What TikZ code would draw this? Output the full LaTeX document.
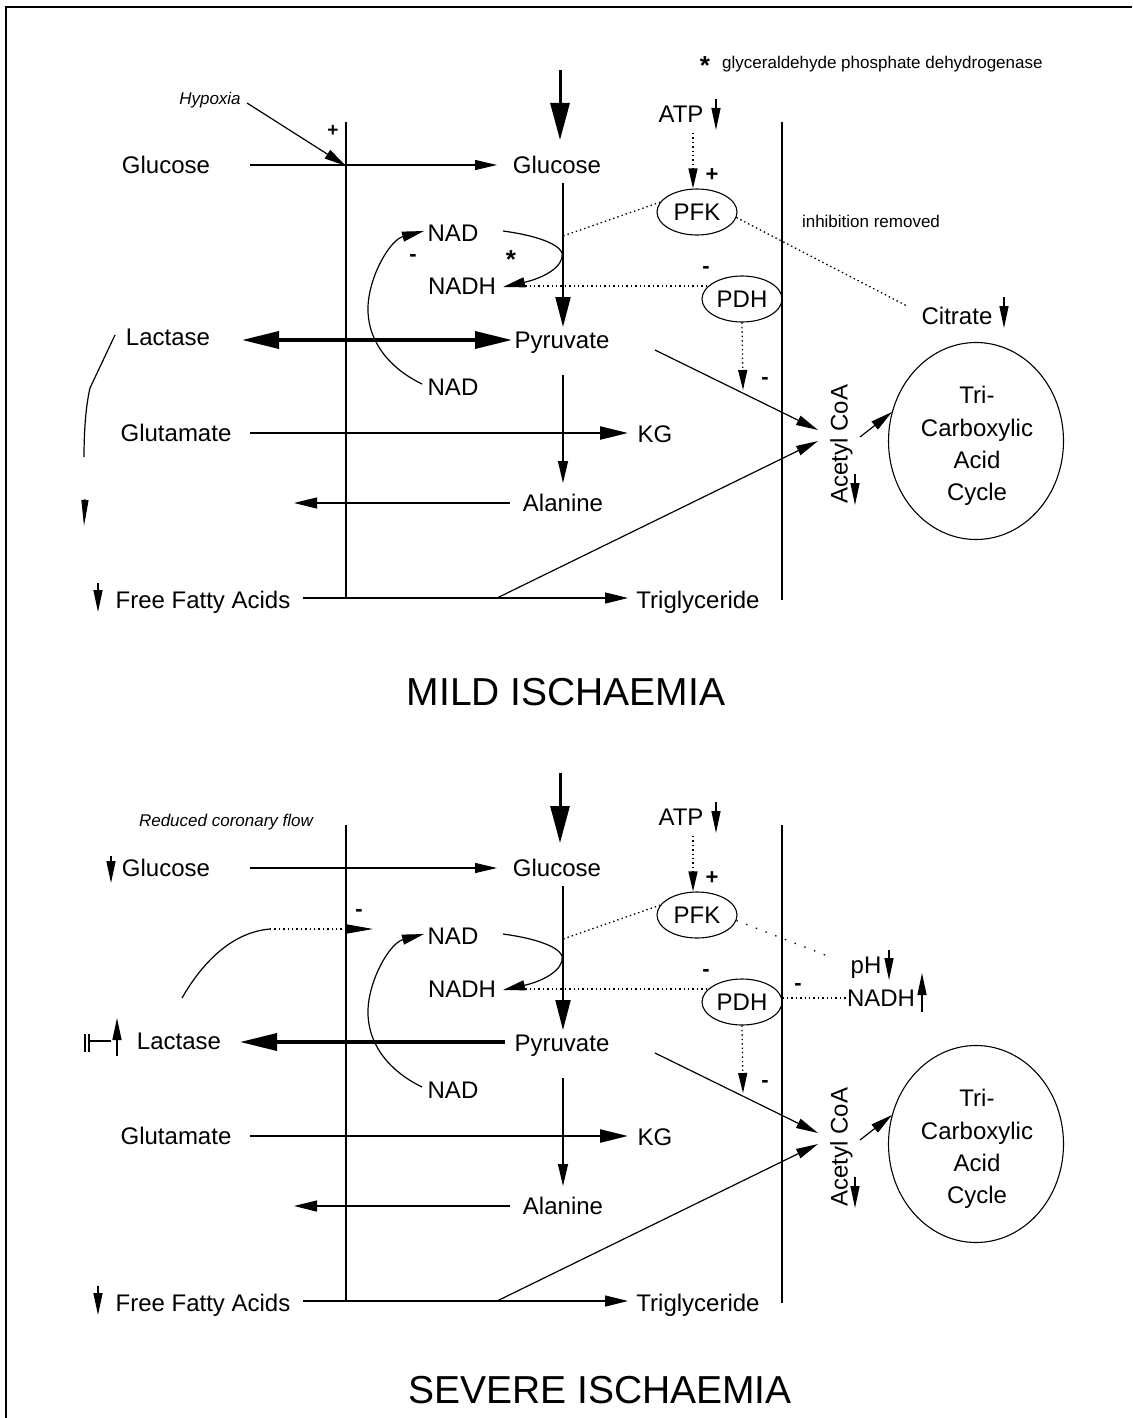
\documentclass[tikz,border=0pt]{standalone}
\usepackage{fontspec}
\setmainfont{Liberation Sans}
\usetikzlibrary{arrows.meta,shapes.geometric}
\tikzset{
  lbl/.style={font=\fontsize{24}{28}\selectfont, inner sep=0pt, text height=17pt, text depth=0pt},
  smalltxt/.style={font=\fontsize{17}{19}\selectfont, inner sep=0pt},
  titletxt/.style={font=\fontsize{39}{44}\selectfont, inner sep=0pt},
  sgn/.style={font=\fontsize{22}{24}\selectfont\bfseries, inner sep=0pt},
  enz/.style={draw, ellipse, line width=1.1pt, minimum width=80pt, minimum height=46pt, inner sep=0pt,
    font=\fontsize{24}{28}\selectfont, text height=17pt, text depth=0pt},
  ln/.style={line width=1.2pt},
  dotln/.style={line width=1.3pt, dash pattern=on 1.4pt off 3pt},
  sparse/.style={line width=1.3pt, dash pattern=on 1.4pt off 9pt},
  thinarr/.style={ln, -{Triangle[length=22pt,width=10pt]}},
  medarr/.style={line width=2.4pt, -{Triangle[length=28pt,width=13pt]}},
  bigarr/.style={line width=3pt, -{Triangle[length=37pt,width=19pt]}},
  tickarr/.style={line width=1.3pt, -{Triangle[length=22pt,width=9pt]}},
  dotarr/.style={dotln, -{Triangle[length=20pt,width=9pt]}},
}
\newcommand\mypanel[1]{%
  \draw[ln] (346,122) -- (346,598);
  \draw[ln] (782,122) -- (782,600);
  % glucose
  \node[lbl] (#1gl) at (166,165) {Glucose};
  \node[lbl] (#1gr) at (557,165) {Glucose};
  \coordinate (#1g0) at (250,165);
  \coordinate (#1g1) at (497,165);
  \draw[thinarr] (#1g0) -- (#1g1);
  \coordinate (#1in0) at (560,70);
  \coordinate (#1in1) at (560,140);
  \draw[bigarr] (#1in0) -- (#1in1);
  % ATP and PFK
  \node[lbl] (#1atp) at (681,114) {ATP};
  \coordinate (#1atpa) at (716,99);
  \coordinate (#1atpb) at (716,130);
  \draw[tickarr] (#1atpa) -- (#1atpb);
  \node[enz] (#1pfk) at (697,212) {PFK};
  \node[enz] (#1pdh) at (742,299) {PDH};
  \coordinate (#1atpc) at (693,133);
  \draw[dotarr] (#1atpc) -- (#1pfk.north -| #1atpc);
  \node[sgn] (#1plus) at (712,175) {+};
  % NAD / NADH
  \node[lbl] (#1nad) at (453,233) {NAD};
  \node[lbl] (#1nadh) at (462,286) {NADH};
  \node[lbl] (#1pyr) at (562,340) {Pyruvate};
  \node[lbl] (#1nadb) at (453,387) {NAD};
  \coordinate (#1gp0) at (563,183);
  \coordinate (#1gp1) at (563,327);
  \draw[line width=2pt, -{Triangle[length=30pt,width=15pt]}] (#1gp0) -- (#1gp1);
  \coordinate (#1c0) at (503,231);
  \coordinate (#1c1) at (562,258);
  \coordinate (#1c2) at (503,287);
  \draw[thinarr] (#1c0) .. controls (540,236) and (566,246) .. (#1c1)
     .. controls (558,272) and (535,280) .. (#1c2);
  \coordinate (#1r0) at (422,384);
  \coordinate (#1r1) at (368,307);
  \coordinate (#1r2) at (424,231);
  \draw[thinarr] (#1r0) .. controls (385,366) and (367,337) .. (#1r1)
     .. controls (369,276) and (390,240) .. (#1r2);
  % PFK / PDH regulation
  \coordinate (#1pg) at (563,236);
  \draw[dotln] (#1pfk.165) -- (#1pg);
  \coordinate (#1nd) at (512,286);
  \coordinate (#1pd) at (708,286);
  \draw[dotln] (#1nd) -- (#1pd);
  \node[sgn] (#1m1) at (706,270) {-};
  \coordinate (#1pdd) at (743,390);
  \draw[dotarr] (#1pdh.south) -- (#1pdd);
  \node[sgn] (#1m2) at (765,381) {-};
  % pyruvate branches
  \coordinate (#1pa0) at (655,350);
  \coordinate (#1pa1) at (818,430);
  \draw[thinarr] (#1pa0) -- (#1pa1);
  \coordinate (#1pl0) at (563,375);
  \coordinate (#1pl1) at (563,483);
  \draw[thinarr] (#1pl0) -- (#1pl1);
  % glutamate
  \node[lbl] (#1glut) at (176,433) {Glutamate};
  \node[lbl] (#1kg) at (655,434) {KG};
  \coordinate (#1k0) at (250,433);
  \coordinate (#1k1) at (628,433);
  \draw[medarr] (#1k0) -- (#1k1);
  % alanine
  \node[lbl] (#1ala) at (563,503) {Alanine};
  \coordinate (#1al0) at (510,503);
  \coordinate (#1al1) at (294,503);
  \draw[ln, -{Triangle[length=23pt,width=11pt]}] (#1al0) -- (#1al1);
  % fatty acids
  \node[lbl] (#1ffa) at (203,600) {Free Fatty Acids};
  \coordinate (#1fd0) at (98,583);
  \coordinate (#1fd1) at (98,612);
  \draw[tickarr] (#1fd0) -- (#1fd1);
  \node[lbl] (#1tg) at (698,600) {Triglyceride};
  \coordinate (#1f0) at (303,598);
  \coordinate (#1fm) at (497,598);
  \coordinate (#1f1) at (628,598);
  \draw[ln, -{Triangle[length=23pt,width=11pt]}] (#1f0) -- (#1f1);
  \coordinate (#1fa) at (818,441);
  \draw[thinarr] (#1fm) -- (#1fa);
  % acetyl CoA and TCA
  \node[lbl, rotate=90] (#1acoa) at (839,444) {Acetyl CoA};
  \coordinate (#1ad0) at (855,474);
  \coordinate (#1ad1) at (855,505);
  \draw[tickarr] (#1ad0) -- (#1ad1);
  \node[draw, ellipse, line width=1.1pt, minimum width=175pt, minimum height=197pt, inner sep=0pt] (#1tca) at (976,441) {};
  \node[align=center, inner sep=0pt, font=\fontsize{24}{32.3}\selectfont] (#1tcat) at (977,446)
        {Tri-\\Carboxylic\\Acid\\Cycle};
  \coordinate (#1t0) at (860,437);
  \coordinate (#1t1) at (892,412);
  \draw[thinarr] (#1t0) -- (#1t1);
}
\begin{document}
\begin{tikzpicture}[x=1pt,y=-1pt]
\useasboundingbox (0,0) rectangle (1132,1418);
\draw[line width=1.2pt] (6,1418) -- (6,7) -- (1132,7);
% ---------------- MILD ----------------
\mypanel{t}
\node[lbl, font=\fontsize{26}{28}\selectfont\bfseries] (tstar) at (511,260) {*};
\node[font=\fontsize{26}{28}\selectfont\bfseries, inner sep=0pt] (tkey) at (705,66) {*};
\node[smalltxt, anchor=west] (tkeytxt) at (722,64) {glyceraldehyde phosphate dehydrogenase};
\node[smalltxt, font=\fontsize{17}{19}\selectfont\itshape] (hyp) at (210,100) {Hypoxia};
\coordinate (hyp0) at (247,103);
\coordinate (hyp1) at (346,166);
\draw[thinarr] (hyp0) -- (hyp1);
\node[sgn, font=\fontsize{19}{21}\selectfont\bfseries] (hplus) at (333,131) {+};
\node[lbl] (tlac) at (168,337) {Lactase};
\coordinate (tl0) at (242,340);
\coordinate (tl1) at (512,340);
\draw[line width=3.5pt, {Triangle[length=37pt,width=17pt]}-{Triangle[length=37pt,width=17pt]}] (tl0) -- (tl1);
\node[sgn] (tm3) at (413,258) {-};
\node[lbl] (cit) at (957,316) {Citrate};
\coordinate (cit0) at (1004,297);
\coordinate (cit1) at (1004,328);
\draw[tickarr] (cit0) -- (cit1);
\coordinate (citl) at (907,306);
\draw[dotln] (tpfk.-8) -- (citl);
\node[smalltxt] (inh) at (871,221) {inhibition removed};
\coordinate (lc0) at (115,335);
\coordinate (lc1) at (90,388);
\coordinate (lc2) at (84,457);
\draw[ln] (lc0) -- (lc1) .. controls (86,405) and (84,430) .. (lc2);
\coordinate (lc3) at (85,499);
\coordinate (lc4) at (84,526);
\draw[line width=1pt, -{Triangle[length=26pt,width=7pt]}] (lc3) -- (lc4);
\node[titletxt] (mild) at (566,692) {MILD ISCHAEMIA};
% ---------------- SEVERE ----------------
\begin{scope}[shift={(0,703)}]
\mypanel{b}
\end{scope}
\node[smalltxt, font=\fontsize{17}{19}\selectfont\itshape] (rcf) at (226,822) {Reduced coronary flow};
\coordinate (bgd0) at (111,856);
\coordinate (bgd1) at (111,883);
\draw[tickarr] (bgd0) -- (bgd1);
\node[lbl] (blac) at (179,1041) {Lactase};
\coordinate (bl0) at (505,1042);
\coordinate (bl1) at (240,1042);
\draw[line width=3.5pt, -{Triangle[length=37pt,width=17pt]}] (bl0) -- (bl1);
\coordinate (bb0) at (85,1034);
\coordinate (bb1) at (85,1052);
\coordinate (bb2) at (89,1034);
\coordinate (bb3) at (89,1052);
\draw[ln] (bb0) -- (bb1);
\draw[ln] (bb2) -- (bb3);
\coordinate (bb4) at (89,1041);
\coordinate (bb5) at (111,1041);
\draw[ln] (bb4) -- (bb5);
\coordinate (bu0) at (117,1056);
\coordinate (bu1) at (117,1018);
\draw[tickarr] (bu0) -- (bu1);
\coordinate (bc0) at (182,998);
\coordinate (bc1) at (270,929);
\coordinate (bc2) at (346,929);
\coordinate (bc3) at (373,929);
\draw[ln] (bc0) .. controls (205,958) and (235,932) .. (bc1);
\draw[dotln] (bc1) -- (bc2);
\draw[line width=1pt, -{Triangle[length=26pt,width=9pt]}] (bc2) -- (bc3);
\node[sgn] (bm3) at (359,913) {-};
\coordinate (bpg2) at (833,958);
\draw[sparse] (bpfk.-8) -- (bpg2);
\node[lbl] (ph) at (866,965) {pH};
\coordinate (ph0) at (889,950);
\coordinate (ph1) at (889,980);
\draw[tickarr] (ph0) -- (ph1);
\node[lbl] (bnadh2) at (881,998) {NADH};
\coordinate (nu0) at (922,1012);
\coordinate (nu1) at (922,973);
\draw[tickarr] (nu0) -- (nu1);
\draw[dotln] (bpdh.east |- bnadh2.west) -- (bnadh2.west);
\node[sgn] (bm4) at (798,987) {-};
\node[titletxt] (severe) at (600,1390) {SEVERE ISCHAEMIA};
\end{tikzpicture}
\end{document}
